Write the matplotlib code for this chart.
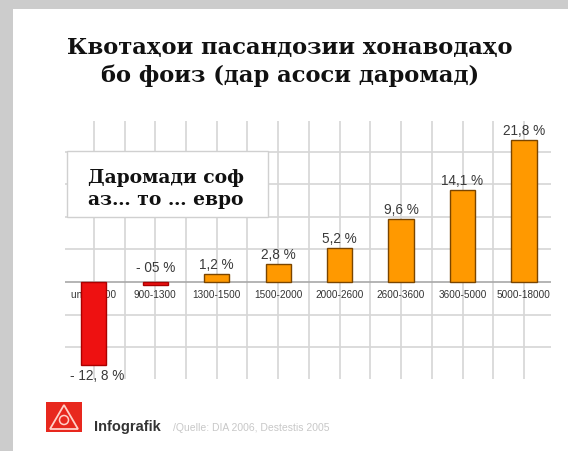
import matplotlib.pyplot as plt
from matplotlib.patches import Rectangle, Polygon, Circle
import numpy as np

# income groups (euro) and share of saving households, %
categories = ["under 900", "900-1300", "1300-1500", "1500-2000",
              "2000-2600", "2600-3600", "3600-5000", "5000-18000"]
values = [-12.8, -0.5, 1.2, 2.8, 5.2, 9.6, 14.1, 21.8]
value_labels = ["- 12, 8 %", "- 05 %", "1,2 %", "2,8 %",
                "5,2 %", "9,6 %", "14,1 %", "21,8 %"]

title = "Квотаҳои пасандозии хонаводаҳо\nбо фоиз (дар асоси даромад)"
box_text = "Даромади соф\nаз… то … евро"

W, H = 568, 452
fig = plt.figure(figsize=(W / 100, H / 100), dpi=100, facecolor="#cccccc")

# background layer in pixel coordinates
bg = fig.add_axes([0, 0, 1, 1], zorder=0)
bg.set_xlim(0, W)
bg.set_ylim(H, 0)
bg.axis("off")
bg.add_patch(Rectangle((13, 10), W - 13, H - 10, facecolor="white", edgecolor="none"))
bg.text(290, 62, title, ha="center", va="center", fontsize=16.3, fontweight="bold",
        family=["DejaVu Serif"], linespacing=1.35, color="#111111")

# chart
ax = fig.add_axes([65 / W, 1 - 380 / H, 486 / W, 258 / H], zorder=1)
ax.patch.set_alpha(0)
x = np.arange(len(categories))
ax.set_xlim(-0.47, 7.44)
ax.set_ylim(-14.9, 24.7)
ax.axis("off")

for gy in [-10, -5, 5, 10, 15, 20]:
    ax.axhline(gy, color="#d6d6d6", lw=1.2, zorder=0)
for gx in np.arange(0, len(categories) - 0.99, 0.5):
    ax.axvline(gx, color="#d6d6d6", lw=1.2, zorder=0)
ax.axhline(0, color="#a8a8a8", lw=1.2, zorder=1)

for xi, cat in zip(x, categories):
    ax.annotate(cat, (xi, 0), xytext=(0, -12), textcoords="offset pixels",
                ha="center", va="center", fontsize=7.2, color="#333333",
                family=["Liberation Sans"], zorder=2)

colors = ["#ee1111" if v < 0 else "#ff9900" for v in values]
edges = ["#aa0000" if v < 0 else "#7a4500" for v in values]
ax.bar(x, values, width=0.41, color=colors, edgecolor=edges, linewidth=1, zorder=3)

for xi, v, lab in zip(x, values, value_labels):
    if v < -5:
        ax.annotate(lab, (xi, v), xytext=(3, -3), textcoords="offset pixels",
                    ha="center", va="top", fontsize=9.8, color="#3a3a3a",
                    family=["Liberation Sans"])
    elif v < 0:
        ax.annotate(lab, (xi, 0), xytext=(0, 8), textcoords="offset pixels",
                    ha="center", va="bottom", fontsize=9.8, color="#3a3a3a",
                    family=["Liberation Sans"])
    else:
        ax.annotate(lab, (xi, v), xytext=(0, 3), textcoords="offset pixels",
                    ha="center", va="bottom", fontsize=9.8, color="#3a3a3a",
                    family=["Liberation Sans"])

# overlay: legend box and footer
ov = fig.add_axes([0, 0, 1, 1], zorder=2)
ov.patch.set_alpha(0)
ov.set_xlim(0, W)
ov.set_ylim(H, 0)
ov.axis("off")
ov.add_patch(Rectangle((67, 152), 201, 66, facecolor="white", edgecolor="#d0d0d0", lw=1))
ov.text(166, 189, box_text, ha="center", va="center", fontsize=13.5, fontweight="bold",
        family=["DejaVu Serif"], linespacing=1.25, color="#111111")

ov.add_patch(Rectangle((46, 403), 36, 30, facecolor="#e8281e", edgecolor="none"))
ov.add_patch(Polygon([(64, 406), (50, 430), (78, 430)], closed=True, fill=False,
                     edgecolor="#ffd0c8", lw=1.3))
ov.add_patch(Circle((64, 421), 4.5, fill=False, edgecolor="#ffd0c8", lw=1.1))
ov.text(94, 427, "Infografik", ha="left", va="center", fontsize=10.5, fontweight="bold",
        family=["Liberation Sans"], color="#333333")
ov.text(173, 428, "/Quelle: DIA 2006, Destestis 2005", ha="left", va="center",
        fontsize=7.5, family=["Liberation Sans"], color="#c8c8c8")

fig.savefig("out.png", dpi=100, facecolor=fig.get_facecolor())
